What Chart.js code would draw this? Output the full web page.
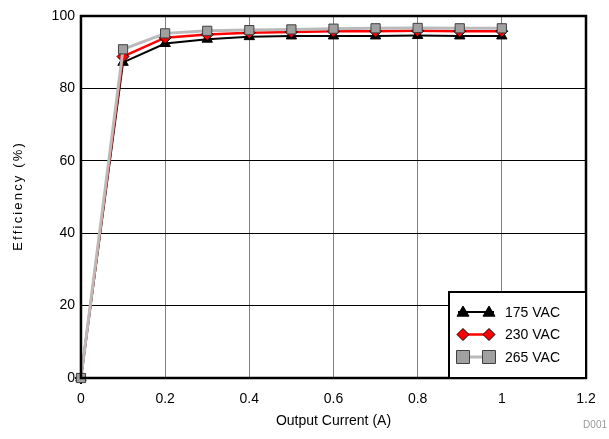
<!DOCTYPE html>
<html>
<head>
<meta charset="utf-8">
<script src="https://cdn.jsdelivr.net/npm/chart.js@4/dist/chart.umd.min.js"></script>
<style>
    html, body { margin: 0; padding: 0; background: #fff; }
    #wrap { position: relative; width: 609px; height: 439px; }
</style>
</head>
<body>
<div id="wrap"><canvas id="chart" width="609" height="439"></canvas></div>
<script>
// Data
const current = [0, 0.1, 0.2, 0.3, 0.4, 0.5, 0.6, 0.7, 0.8, 0.9, 1.0];
const eff175 = [0, 87.2, 92.4, 93.6, 94.3, 94.5, 94.5, 94.5, 94.6, 94.5, 94.5];
const eff230 = [0, 88.8, 94.0, 94.9, 95.4, 95.6, 95.8, 95.8, 95.9, 95.8, 95.8];
const eff265 = [0, 90.8, 95.2, 95.9, 96.1, 96.3, 96.5, 96.6, 96.7, 96.6, 96.6];
const seriesNames = ['175 VAC', '230 VAC', '265 VAC'];
const xTicks = [0, 0.2, 0.4, 0.6, 0.8, 1, 1.2];
const yTicks = [0, 20, 40, 60, 80, 100];

function toPoints(ys) {
    return current.map((x, i) => ({ x: x, y: ys[i] }));
}

const FONT = 'Liberation Sans, Arial, sans-serif';
const SP = '\u2006';

function drawMarker(ctx, style, x, y, r) {
    if (style === 'triangle') {
        ctx.moveTo(x, y - r);
        ctx.lineTo(x + r, y + r * 0.7);
        ctx.lineTo(x - r, y + r * 0.7);
        ctx.closePath();
    } else if (style === 'rectRot') {
        ctx.moveTo(x, y - r);
        ctx.lineTo(x + r, y);
        ctx.lineTo(x, y + r);
        ctx.lineTo(x - r, y);
        ctx.closePath();
    } else {
        ctx.rect(x - r, y - r, 2 * r, 2 * r);
    }
}

// Border + legend box + footnote
const framePlugin = {
    id: 'frame',
    afterDatasetsDraw(chart) {
        const { ctx, chartArea: a } = chart;
        ctx.save();
        ctx.strokeStyle = '#000';
        ctx.lineWidth = 2.5;
        ctx.strokeRect(a.left, a.top, a.right - a.left, a.bottom - a.top);

        // legend box
        const bx = a.right - 137, by = a.bottom - 86, bw = 137, bh = 86;
        ctx.fillStyle = '#fff';
        ctx.fillRect(bx, by, bw, bh);
        ctx.lineWidth = 2;
        ctx.strokeRect(bx, by, bw, bh);

        const items = chart.data.datasets.slice().sort((p, q) => p.legendIndex - q.legendIndex);
        items.forEach((ds, i) => {
            const y = by + 20 + i * 22.5;
            const x1 = bx + 9, x2 = bx + 45;
            ctx.strokeStyle = ds.borderColor;
            ctx.lineWidth = ds.borderWidth;
            ctx.beginPath();
            ctx.moveTo(x1, y);
            ctx.lineTo(x2, y);
            ctx.stroke();
            [bx + 14, bx + 40].forEach(px => {
                ctx.fillStyle = ds.pointBackgroundColor;
                ctx.strokeStyle = ds.pointBorderColor;
                ctx.lineWidth = ds.pointBorderWidth;
                ctx.beginPath();
                drawMarker(ctx, ds.pointStyle, px, y, ds.pointRadius);
                ctx.fill();
                ctx.stroke();
            });
            ctx.fillStyle = '#000';
            ctx.font = '14px ' + FONT;
            ctx.textBaseline = 'middle';
            ctx.textAlign = 'left';
            ctx.fillText(ds.label, bx + 56, y + 1);
        });

        ctx.fillStyle = '#999';
        ctx.font = '10px ' + FONT;
        ctx.textAlign = 'right';
        ctx.textBaseline = 'alphabetic';
        ctx.fillText('D001', 607, 428);
        ctx.restore();
    }
};

new Chart(document.getElementById('chart'), {
    type: 'line',
    data: {
        datasets: [
            {
                label: seriesNames[0],
                legendIndex: 0,
                order: 3,
                data: toPoints(eff175),
                borderColor: '#000',
                borderWidth: 2,
                pointStyle: 'triangle',
                pointRadius: 6,
                pointBackgroundColor: '#000',
                pointBorderColor: '#000',
                pointBorderWidth: 1,
                clip: false
            },
            {
                label: seriesNames[1],
                legendIndex: 1,
                order: 2,
                data: toPoints(eff230),
                borderColor: '#ff0000',
                borderWidth: 2.5,
                pointStyle: 'rectRot',
                pointRadius: 6,
                pointBackgroundColor: '#ff0000',
                pointBorderColor: '#000',
                pointBorderWidth: 1,
                clip: false
            },
            {
                label: seriesNames[2],
                legendIndex: 2,
                order: 1,
                data: toPoints(eff265),
                borderColor: '#bababa',
                borderWidth: 3,
                pointStyle: 'rect',
                pointRadius: 6.5,
                pointBackgroundColor: '#a0a0a0',
                pointBorderColor: '#404040',
                pointBorderWidth: 1,
                clip: false
            }
        ]
    },
    options: {
        responsive: false,
        animation: false,
        layout: { padding: { top: 16, right: 23, left: 10, bottom: 4 } },
        plugins: {
            legend: { display: false },
            tooltip: { enabled: false }
        },
        scales: {
            x: {
                type: 'linear',
                min: 0,
                max: 1.2,
                afterBuildTicks: axis => { axis.ticks = xTicks.map(v => ({ value: v })); },
                grid: { color: '#808080', lineWidth: 1, drawTicks: false },
                border: { display: false },
                ticks: {
                    color: '#000',
                    font: { family: FONT, size: 14 },
                    padding: 13,
                    maxRotation: 0,
                    callback: v => String(v)
                },
                title: {
                    display: true,
                    text: 'Output Current (A)',
                    color: '#000',
                    font: { family: FONT, size: 14 },
                    padding: { top: -8.2, bottom: 5.6 }
                }
            },
            y: {
                min: 0,
                max: 100,
                afterBuildTicks: axis => { axis.ticks = yTicks.map(v => ({ value: v })); },
                grid: { color: '#000', lineWidth: 1, drawTicks: false },
                border: { display: false },
                ticks: {
                    color: '#000',
                    font: { family: FONT, size: 14 },
                    padding: 6
                },
                title: {
                    display: true,
                    text: 'Efficiency (%)'.split('').join(SP),
                    color: '#000',
                    font: { family: FONT, size: 13 },
                    padding: { top: 1, bottom: 19 }
                }
            }
        }
    },
    plugins: [framePlugin]
});
</script>
</body>
</html>
